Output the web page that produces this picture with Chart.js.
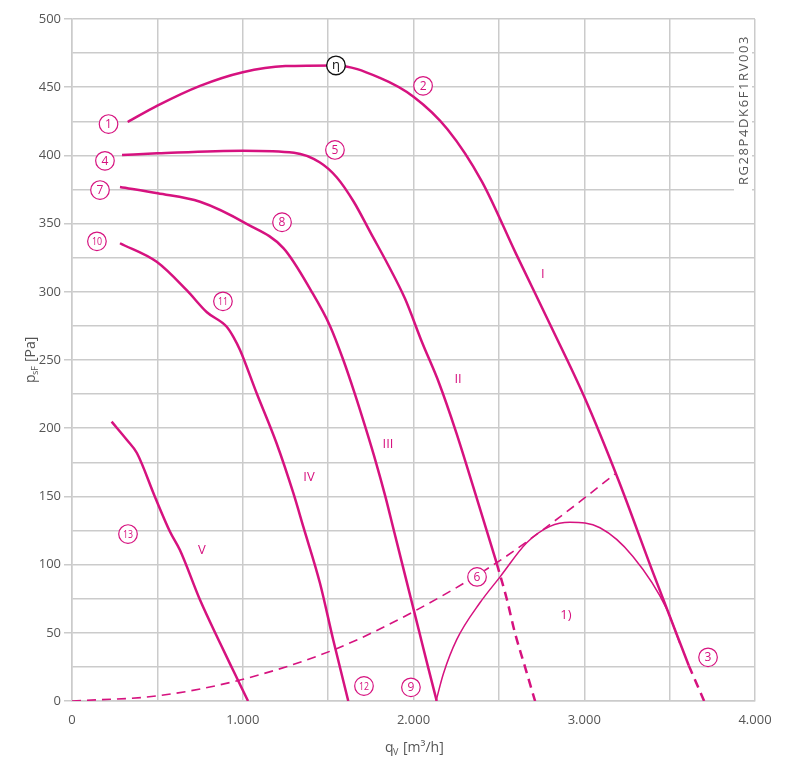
<!DOCTYPE html>
<html>
<head>
  <title>Fan curves</title>
  <script src="https://cdn.jsdelivr.net/npm/chart.js"></script>
  <style>
    body { margin: 0; background: #fff; overflow: hidden; }
  </style>
</head>
<body>
  <canvas id="fanChart" width="799" height="768"></canvas>

  <script>
    // air flow qV [m3/h] and static pressure psF [Pa]
    var curveIq = [326, 500, 750, 1000, 1250, 1546, 1800, 2000, 2200, 2400, 2600, 2800, 3000, 3200, 3400, 3612];
    var curveIp = [424.5, 436.5, 451, 461, 465.5, 466, 457, 443, 419, 381, 328, 276, 223, 162, 95, 26];
    var curveIdashQ = [3612, 3702];
    var curveIdashP = [26, 0];

    var curveIIq = [293, 500, 1000, 1300, 1450, 1550, 1650, 1750, 1850, 1950, 2050, 2150, 2250, 2350, 2487];
    var curveIIp = [400.3, 401.5, 403.5, 402, 395, 384, 366, 343, 320, 295, 263, 233, 197, 157, 101];
    var curveIIdashQ = [2487, 2546, 2594, 2653, 2712];
    var curveIIdashP = [101, 75, 50, 25, 0];

    var curveIIIq = [281, 502, 750, 1020, 1238, 1404, 1511, 1589, 1657, 1720, 1780, 1835, 1885, 1935, 1985, 2035, 2085, 2136];
    var curveIIIp = [376.8, 372.2, 366, 350, 332, 300, 275, 250, 225, 200, 175, 150, 125, 100, 75, 50, 25, 0];

    var curveIVq = [281, 496, 673, 790, 906, 945, 984, 1081, 1198, 1296, 1355, 1452, 1530, 1618];
    var curveIVp = [335.6, 322, 301, 285, 274.4, 267, 257.3, 225.8, 189, 152.5, 127.6, 86.5, 44.7, 0];

    var curveVq = [232, 322, 380, 486, 574, 632, 750, 867, 943, 1031];
    var curveVp = [204.8, 191.3, 181.8, 149.6, 124.1, 110.7, 74, 42.5, 22.7, 0];

    // system curve (dashed) and efficiency curve 1)
    var systemQ = [0, 496, 984, 1530, 2000, 2487, 2858, 3180];
    var systemP = [0, 3.7, 15.4, 37.4, 65.5, 101.4, 135, 166.4];
    var effQ = [2132, 2175, 2253, 2389, 2507, 2663, 2799, 2917, 3092, 3285, 3485, 3560];
    var effP = [0, 20, 45, 72, 91, 116, 128, 131, 127, 106, 67, 42];

    // circled markers and curve names
    var markText = ['1', '2', '3', '4', '5', '6', '7', '8', '9', '10', '11', '12', '13'];
    var markQ = [214, 2056, 3725, 193, 1540, 2372, 164, 1230, 1985, 146, 884, 1710, 328];
    var markP = [423, 451, 32, 396, 404, 91, 374.6, 351, 10, 337, 293, 11, 122.4];
    var etaQ = 1546, etaP = 466;
    var nameText = ['I', 'II', 'III', 'IV', 'V', '1)'];
    var nameQ = [2758, 2261, 1851, 1388, 761, 2893];
    var nameP = [313, 236, 188.4, 164, 110.7, 63];

    var xTicks = [0, 1000, 2000, 3000, 4000];

    var magenta = '#d6127f';
    var gridGray = '#cbcbcb';
    var textGray = '#555555';
    var fontFam = '"Open Sans", "Noto Sans", sans-serif';

    function pts(qs, ps) {
      return qs.map(function(q, i) { return { x: q, y: ps[i] }; });
    }

    function thousands(v) {
      return String(v).replace(/\B(?=(\d{3})+(?!\d))/g, '.');
    }

    function solid(qs, ps) {
      return { data: pts(qs, ps), borderColor: magenta, borderWidth: 2.5, showLine: true, pointRadius: 0, cubicInterpolationMode: 'monotone' };
    }

    function dashed(qs, ps, w) {
      return { data: pts(qs, ps), borderColor: magenta, borderWidth: w, borderDash: [9, 6], showLine: true, pointRadius: 0, cubicInterpolationMode: 'monotone' };
    }

    var datasets = [
      solid(curveIq, curveIp),
      dashed(curveIdashQ, curveIdashP, 2.5),
      solid(curveIIq, curveIIp),
      dashed(curveIIdashQ, curveIIdashP, 2.5),
      solid(curveIIIq, curveIIIp),
      solid(curveIVq, curveIVp),
      solid(curveVq, curveVp),
      dashed(systemQ, systemP, 1.6),
      { data: pts(effQ, effP), borderColor: magenta, borderWidth: 1.5, showLine: true, pointRadius: 0, cubicInterpolationMode: 'monotone' }
    ];

    var decor = {
      id: 'decor',
      beforeDatasetsDraw: function(chart) {
        var c = chart.ctx;
        // type code on the right, rotated, on a white patch
        c.save();
        c.fillStyle = '#ffffff';
        c.fillRect(734, 30, 18, 162);
        c.translate(744, 110);
        c.rotate(-Math.PI / 2);
        c.font = '13px ' + fontFam;
        c.fillStyle = textGray;
        c.textAlign = 'center';
        c.textBaseline = 'middle';
        c.letterSpacing = '1.6px';
        c.fillText('RG28P4DK6F1RV003', 0, 0);
        c.restore();
      },
      afterDatasetsDraw: function(chart) {
        var c = chart.ctx;
        var xs = chart.scales.x, ys = chart.scales.y;
        c.save();
        c.textAlign = 'center';
        c.textBaseline = 'middle';
        // circled numbers
        markText.forEach(function(t, i) {
          var px = xs.getPixelForValue(markQ[i]);
          var py = ys.getPixelForValue(markP[i]);
          c.beginPath();
          c.arc(px, py, 9.3, 0, Math.PI * 2);
          c.fillStyle = '#ffffff';
          c.fill();
          c.lineWidth = 1.2;
          c.strokeStyle = magenta;
          c.stroke();
          c.fillStyle = magenta;
          c.font = (t.length > 1 ? '11px ' : '12px ') + fontFam;
          if (t.length > 1) {
            c.save();
            c.translate(px, py + 0.5);
            c.scale(0.8, 1);
            c.fillText(t, 0, 0);
            c.restore();
          } else {
            c.fillText(t, px, py + 0.5);
          }
        });
        // efficiency marker
        var ex = xs.getPixelForValue(etaQ), ey = ys.getPixelForValue(etaP);
        c.beginPath();
        c.arc(ex, ey, 9.3, 0, Math.PI * 2);
        c.fillStyle = '#ffffff';
        c.fill();
        c.lineWidth = 1.4;
        c.strokeStyle = '#111111';
        c.stroke();
        c.fillStyle = '#111111';
        c.font = '13px ' + fontFam;
        c.fillText('\u03b7', ex, ey);
        // curve names
        c.fillStyle = magenta;
        c.font = '13px ' + fontFam;
        nameText.forEach(function(t, i) {
          c.fillText(t, xs.getPixelForValue(nameQ[i]), ys.getPixelForValue(nameP[i]));
        });
        c.restore();
      },
      afterDraw: function(chart) {
        var c = chart.ctx;
        c.save();
        c.fillStyle = textGray;
        c.textBaseline = 'alphabetic';
        // x title: qV [m3/h]
        c.font = '14px ' + fontFam;
        c.fillText('q', 385, 752);
        c.font = '9px ' + fontFam;
        c.fillText('V', 393, 755);
        c.font = '14px ' + fontFam;
        c.fillText('[m\u00b3/h]', 403, 752);
        // y title: psF [Pa], rotated
        c.translate(35, 360);
        c.rotate(-Math.PI / 2);
        c.font = '14px ' + fontFam;
        c.fillText('p', -23, 0);
        c.font = '9px ' + fontFam;
        c.fillText('sF', -15, 3);
        c.font = '14px ' + fontFam;
        c.fillText('[Pa]', -2, 0);
        c.restore();
      }
    };

    var ctx = document.getElementById('fanChart').getContext('2d');
    var fanChart = new Chart(ctx, {
      type: 'scatter',
      data: { datasets: datasets },
      options: {
        responsive: false,
        animation: false,
        layout: { padding: { top: 19, right: 44, left: 0, bottom: 0 } },
        plugins: { legend: { display: false }, tooltip: { enabled: false } },
        scales: {
          x: {
            type: 'linear',
            min: 0,
            max: 4000,
            afterFit: function(s) { s.height = 67; },
            afterBuildTicks: function(s) {
              var t = [];
              for (var v = 0; v <= 4000; v += 500) t.push({ value: v });
              s.ticks = t;
            },
            grid: { color: gridGray, lineWidth: 1.5, drawTicks: false },
            border: { color: gridGray, width: 1.5 },
            ticks: {
              padding: 11,
              color: textGray,
              font: { size: 13, family: fontFam },
              maxRotation: 0,
              autoSkip: false,
              callback: function(v) { return xTicks.indexOf(v) >= 0 ? thousands(v) : ''; }
            }
          },
          y: {
            min: 0,
            max: 500,
            afterFit: function(s) { s.width = 72; },
            grid: {
              color: gridGray,
              lineWidth: 1.5,
              tickLength: 8,
              tickColor: function(c) { return c.tick && c.tick.value % 50 === 0 ? gridGray : 'rgba(0,0,0,0)'; }
            },
            border: { color: gridGray, width: 1.5 },
            ticks: {
              stepSize: 25,
              padding: 3,
              color: textGray,
              font: { size: 13, family: fontFam },
              autoSkip: false,
              callback: function(v) { return v % 50 === 0 ? String(v) : ''; }
            }
          }
        }
      },
      plugins: [decor]
    });
  </script>
</body>
</html>
